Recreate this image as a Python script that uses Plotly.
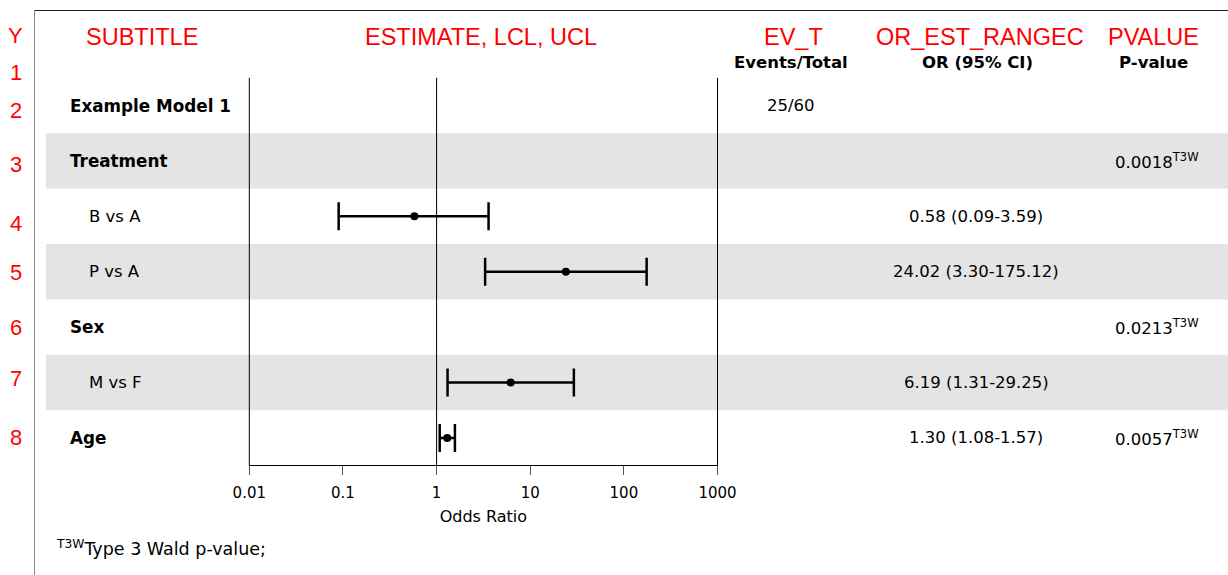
import plotly.graph_objects as go

# ---------------- data ----------------
row_labels = ["Example Model 1", "Treatment", "B vs A", "P vs A", "Sex", "M vs F", "Age"]
row_ids = [2, 3, 4, 5, 6, 7, 8]
row_bold = [True, True, False, False, True, False, True]

est_rows = [4, 5, 7, 8]
estimate = [0.58, 24.02, 6.19, 1.30]
lcl = [0.09, 3.30, 1.31, 1.08]
ucl = [3.59, 175.12, 29.25, 1.57]

ev_rows = [2]
ev_text = ["25/60"]

p_rows = [3, 6, 8]
p_values = ["0.0018", "0.0213", "0.0057"]

band_rows = [3, 5, 7]

tick_vals = [0.01, 0.1, 1, 10, 100, 1000]
tick_text = ["0.01", "0.1", "1", "10", "100", "1000"]

red_row_marks = ["Y", "1", "2", "3", "4", "5", "6", "7", "8"]

# ---------------- layout constants ----------------
W, H = 1228, 575
BLACK_FONT = "DejaVu Sans"
RED_FONT = "Liberation Sans"
RED = "#ff0000"
red_mark_px = [35.7, 72.3, 111, 164.3, 223.8, 272.8, 327, 378, 437.7]


def px_x(p):
    return p / W


def px_y(p):
    return 1 - p / H


fig = go.Figure()

fig.add_trace(go.Scatter(
    x=estimate, y=est_rows, mode="markers",
    marker=dict(color="black", size=8),
    error_x=dict(type="data", symmetric=False,
                 array=[u - e for u, e in zip(ucl, estimate)],
                 arrayminus=[e - l for e, l in zip(estimate, lcl)],
                 color="black", thickness=2.5, width=14),
    showlegend=False, hoverinfo="skip",
))

shapes = []
for r in band_rows:
    shapes.append(dict(type="rect", layer="below", xref="paper", yref="y",
                       x0=px_x(46), x1=1, y0=r - 0.5, y1=r + 0.5,
                       fillcolor="#e4e4e4", line=dict(width=0)))
for xd in [0, 0.4, 1]:
    shapes.append(dict(type="line", xref="x domain", yref="y",
                       x0=xd, x1=xd, y0=1.5, y1=8.5,
                       line=dict(color="black", width=1)))
# frame lines
shapes.append(dict(type="line", xref="paper", yref="paper",
                   x0=px_x(34), x1=1, y0=px_y(10.5), y1=px_y(10.5),
                   line=dict(color="#222222", width=1)))
shapes.append(dict(type="line", xref="paper", yref="paper",
                   x0=px_x(34.5), x1=px_x(34.5), y0=0, y1=px_y(10),
                   line=dict(color="#888888", width=1)))

ann = []
# red row markers
for t, yp in zip(red_row_marks, red_mark_px):
    ann.append(dict(text=t, xref="paper", yref="paper", x=px_x(15.5), y=px_y(yp),
                    xanchor="center", yanchor="middle", showarrow=False,
                    font=dict(family=RED_FONT, size=22, color=RED)))
# red headers
for t, xc in [("SUBTITLE", 142), ("ESTIMATE, LCL, UCL", 481), ("EV_T", 793),
              ("OR_EST_RANGEC", 980), ("PVALUE", 1153)]:
    ann.append(dict(text=t, xref="paper", yref="paper", x=px_x(xc), y=px_y(37),
                    xanchor="center", yanchor="middle", showarrow=False,
                    font=dict(family=RED_FONT, size=23.5, color=RED)))
# bold sub headers
for t, xc in [("Events/Total", 791), ("OR (95% CI)", 977), ("P-value", 1153)]:
    ann.append(dict(text=t, xref="paper", yref="paper",
                    x=px_x(xc), y=px_y(63), xanchor="center", yanchor="middle",
                    showarrow=False,
                    font=dict(family=BLACK_FONT, size=16.5, color="black",
                              weight="bold")))
# row labels
for t, r, b in zip(row_labels, row_ids, row_bold):
    ann.append(dict(text=t, xref="paper", yref="y",
                    x=px_x(68 if b else 87), y=r, xanchor="left", yanchor="middle",
                    showarrow=False,
                    font=dict(family=BLACK_FONT, size=16.8 if b else 16.5,
                              color="black", weight="bold" if b else "normal")))
# events
for t, r in zip(ev_text, ev_rows):
    ann.append(dict(text=t, xref="paper", yref="y", x=px_x(791), y=r,
                    xanchor="center", yanchor="middle", showarrow=False,
                    font=dict(family=BLACK_FONT, size=16.5, color="black")))
# OR (CI) text
for e, l, u, r in zip(estimate, lcl, ucl, est_rows):
    ann.append(dict(text="%.2f (%.2f-%.2f)" % (e, l, u), xref="paper", yref="y",
                    x=px_x(976), y=r, xanchor="center", yanchor="middle",
                    showarrow=False,
                    font=dict(family=BLACK_FONT, size=16.5, color="black")))
# p-values
for p, r in zip(p_values, p_rows):
    ann.append(dict(text=p + "<sup>T3W</sup>", xref="paper", yref="y",
                    x=px_x(1113), y=r, xanchor="left", yanchor="middle",
                    showarrow=False,
                    font=dict(family=BLACK_FONT, size=16.5, color="black")))
# footnote
ann.append(dict(text="<sup>T3W</sup>Type 3 Wald p-value;", xref="paper", yref="paper",
                x=px_x(54), y=px_y(548), xanchor="left", yanchor="middle",
                showarrow=False,
                font=dict(family=BLACK_FONT, size=17.5, color="black")))

row_px = 55.4
top_row = 2 - 105.5 / row_px
bot_row = 2 + (H - 105.5) / row_px

fig.update_layout(
    width=W, height=H, autosize=False,
    margin=dict(l=0, r=0, t=0, b=0, pad=0, autoexpand=False),
    paper_bgcolor="white", plot_bgcolor="white",
    shapes=shapes, annotations=ann,
    xaxis=dict(type="log", range=[-2, 3],
               domain=[249.3 / W, 717.5 / W],
               anchor="free", position=px_y(465), automargin=False,
               tickvals=tick_vals, ticktext=tick_text,
               ticks="outside", ticklen=9, tickcolor="#555555",
               ticklabelstandoff=5,
               showline=True, linecolor="black", linewidth=1,
               showgrid=False, zeroline=False,
               tickfont=dict(family=BLACK_FONT, size=15, color="black"),
               title=dict(text="Odds Ratio", standoff=9,
                          font=dict(family=BLACK_FONT, size=16, color="black"))),
    yaxis=dict(range=[bot_row, top_row], domain=[0, 1], automargin=False,
               visible=False, showgrid=False, zeroline=False, fixedrange=True),
)

fig.write_html("out.html")
